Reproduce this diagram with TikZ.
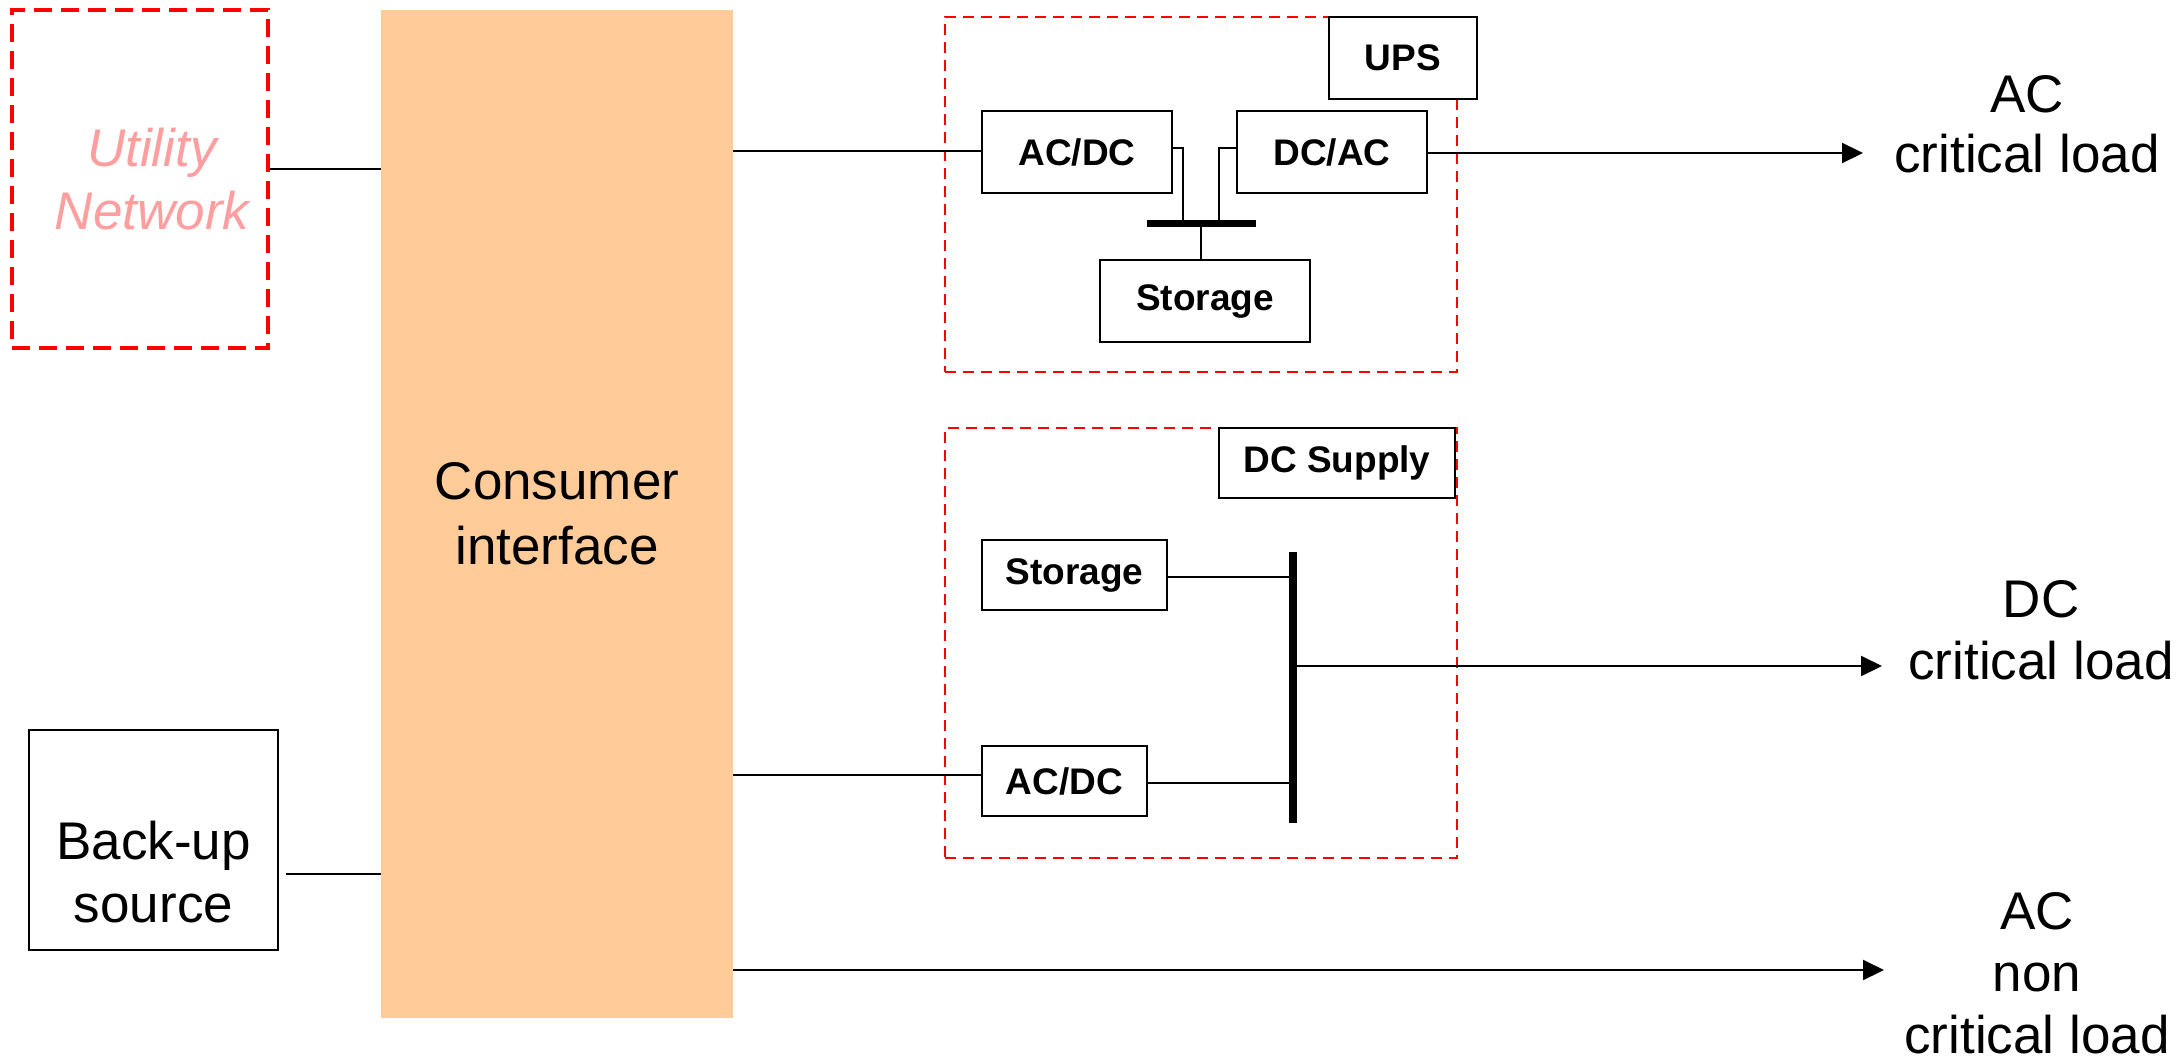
\documentclass[tikz,border=0pt]{standalone}
\usepackage{fontspec}
\setmainfont{Liberation Sans}
\usetikzlibrary{arrows.meta}
\definecolor{peach}{HTML}{FFCC99}
\definecolor{pinktxt}{HTML}{FF9E9E}
\definecolor{dashred}{HTML}{FF0000}
\begin{document}
\begin{tikzpicture}[x=1pt,y=-1pt,
  box/.style={draw=black, line width=2pt, fill=white, inner sep=0pt, align=center,
    font=\bfseries\fontsize{37}{44}\selectfont},
  plainbox/.style={draw=black, line width=2pt, fill=white, inner sep=0pt},
  bigtxt/.style={font=\fontsize{53}{62}\selectfont, align=center, inner sep=0pt},
  frame/.style={draw=dashred, line width=2.5pt, dash pattern=on 11pt off 7pt, inner sep=0pt},
  wire/.style={line width=2pt},
  arr/.style={wire, -{Triangle[length=21pt,width=20pt]}},
  busbar/.style={line width=8pt}
]
\useasboundingbox (0,0) rectangle (2181,1063);

% Utility network
\node[draw=dashred, line width=4pt, dash pattern=on 18pt off 9pt, inner sep=0pt,
      minimum width=256pt, minimum height=338pt, align=center,
      text=pinktxt, font=\itshape\fontsize{53}{63}\selectfont] (util) at (140,179)
      {\hspace*{24pt}Utility\\\hspace*{24pt}Network};

% Consumer interface
\node[fill=peach, inner sep=0pt, minimum width=352pt, minimum height=1008pt,
      align=center, font=\fontsize{53}{65}\selectfont] (cons) at (557,514)
      {Consumer\\interface};

% Back-up source
\node[plainbox, minimum width=249pt, minimum height=220pt] (backup) at (153.5,840) {};
\node[bigtxt, font=\fontsize{53}{63}\selectfont] (backuptxt) at (153.5,872) {Back-up\\source};

% UPS frame
\node[frame, minimum width=512pt, minimum height=355pt] (upsframe) at (1201,194.5) {};
\node[box, minimum width=148pt, minimum height=82pt] (upslbl) at (1403,58) {UPS};
\node[box, minimum width=190pt, minimum height=82pt] (acdc1) at (1077,152) {AC/DC};
\node[box, minimum width=190pt, minimum height=82pt] (dcac) at (1332,152) {DC/AC};
\node[box, minimum width=210pt, minimum height=82pt] (stor1) at (1205,301) {\raisebox{-4pt}{Storage}};
\coordinate (b1l) at (1147,223);
\coordinate (b1r) at (1256,223);
\draw[line width=7pt] (b1l) -- (b1r);

% DC supply frame
\node[frame, minimum width=512pt, minimum height=430pt] (dcsframe) at (1201,643) {};
\node[box, minimum width=236pt, minimum height=70pt] (dcslbl) at (1337,463) {DC Supply};
\node[box, minimum width=185pt, minimum height=70pt] (stor2) at (1074.5,575) {Storage};
\node[box, minimum width=165pt, minimum height=70pt] (acdc2) at (1064.5,781) {AC/DC};
\coordinate (b2t) at (1293,552);
\coordinate (b2b) at (1293,823);
\draw[busbar] (b2t) -- (b2b);

% Load labels
\node[bigtxt, font=\fontsize{53}{60}\selectfont] (acl) at (2027,124) {AC\\critical load};
\node[bigtxt] (dcl) at (2041,630) {DC\\critical load};
\node[bigtxt, font=\fontsize{53}{62}\selectfont] (acn) at (2037,973) {AC\\non\\critical load};

\coordinate (tip1) at (1863,153);
\coordinate (tip2) at (1882,666);
\coordinate (tip3) at (1884,970);

% Connectors
\draw[wire] (util.east |- 0,169) -- (cons.west |- 0,169);
\draw[wire] ([xshift=7pt]backup.east |- 0,874) -- (cons.west |- 0,874);
\draw[wire] (cons.east |- 0,151) -- (acdc1.west |- 0,151);
\draw[wire] (acdc1.east |- 0,148) -| (1183,223);
\draw[wire] (dcac.west |- 0,148) -| (1219,223);
\draw[wire] (stor1.north -| 1201,0) -- (1201,223);
\draw[arr] (dcac.east |- tip1) -- (tip1);

\draw[wire] (cons.east |- 0,775) -- (acdc2.west |- 0,775);
\draw[wire] (stor2.east |- 0,577) -- (b2t |- 0,577);
\draw[wire] (acdc2.east |- 0,783) -- (b2t |- 0,783);
\draw[arr] (b2t |- tip2) -- (tip2);
\draw[arr] (cons.east |- tip3) -- (tip3);
\end{tikzpicture}
\end{document}
